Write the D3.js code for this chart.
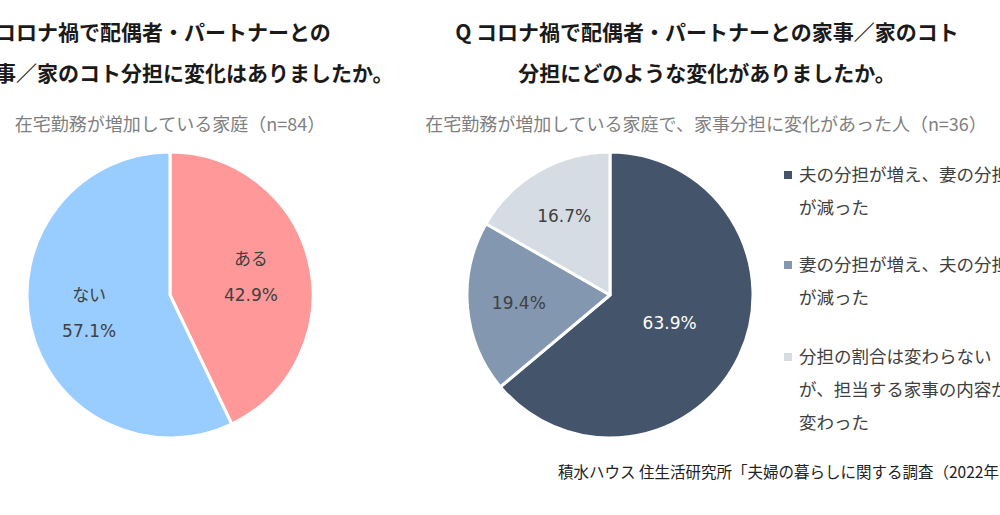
<!DOCTYPE html>
<html><head><meta charset="utf-8">
<script src="https://cdn.jsdelivr.net/npm/d3@7"></script>
<style>html,body{margin:0;padding:0;background:#fff;overflow:hidden}</style>
</head><body>
<svg id="c" width="1000" height="515"></svg>
<script>
const leftTitle = ["Q コロナ禍で配偶者・パートナーとの", "家事／家のコト分担に変化はありましたか。"];
const rightTitle = ["Q コロナ禍で配偶者・パートナーとの家事／家のコト", "分担にどのような変化がありましたか。"];
const leftSubtitle = "在宅勤務が増加している家庭（n=84）";
const rightSubtitle = "在宅勤務が増加している家庭で、家事分担に変化があった人（n=36）";
const leftCategories = ["ある", "ない"];
const leftValues = [42.9, 57.1];
const leftColors = ["#FF9999", "#99CCFF"];
const rightCategories = [
  ["夫の分担が増え、妻の分担", "が減った"],
  ["妻の分担が増え、夫の分担", "が減った"],
  ["分担の割合は変わらない", "が、担当する家事の内容が", "変わった"]
];
const rightValues = [63.9, 19.4, 16.7];
const rightColors = ["#44546A", "#8497B0", "#D6DCE4"];
const rightLabelColors = ["#ffffff", "#404040", "#404040"];
const source = "積水ハウス 住生活研究所「夫婦の暮らしに関する調査（2022年）」";

const svg = d3.select("#c");
const FONT = "'Noto Sans CJK JP','Noto Sans',sans-serif";
const NUMFONT = "'DejaVu Sans','Noto Sans CJK JP',sans-serif";
const R = 143;

// titles
function title(lines, x, anchor) {
  lines.forEach((t, i) => {
    svg.append("text").attr("x", x).attr("y", 40 + i * 41)
      .attr("text-anchor", anchor).attr("font-family", FONT)
      .attr("font-weight", "bold").attr("font-size", 21).attr("fill", "#1a1a1a").text(t);
  });
}
title(leftTitle, -26, "start");
title(rightTitle, 707, "middle");

svg.append("text").attr("x", 170).attr("y", 131).attr("text-anchor", "middle")
  .attr("font-family", FONT).attr("font-size", 18).attr("fill", "#7f7f7f").text(leftSubtitle);
svg.append("text").attr("x", 706).attr("y", 131).attr("text-anchor", "middle")
  .attr("font-family", FONT).attr("font-size", 18).attr("fill", "#7f7f7f").text(rightSubtitle);

const pie = d3.pie().sort(null).value(d => d);
const arc = d3.arc().innerRadius(0).outerRadius(R);

// left pie
const gl = svg.append("g").attr("transform", "translate(170,295)");
const la = pie(leftValues);
gl.selectAll("path").data(la).join("path")
  .attr("d", arc).attr("fill", (d, i) => leftColors[i])
  .attr("stroke", "#fff").attr("stroke-width", 3).attr("stroke-linejoin", "round");
const lArcLab = d3.arc().innerRadius(R * 0.58).outerRadius(R * 0.58);
la.forEach((d, i) => {
  const [cx, cy] = lArcLab.centroid(d);
  gl.append("text").attr("x", cx).attr("y", cy - 18).attr("dy", "0.35em")
    .attr("text-anchor", "middle").attr("font-family", FONT)
    .attr("font-size", 17).attr("fill", "#404040").text(leftCategories[i]);
  gl.append("text").attr("x", cx).attr("y", cy + 18).attr("dy", "0.35em")
    .attr("text-anchor", "middle").attr("font-family", NUMFONT)
    .attr("font-size", 17).attr("fill", "#404040").text(leftValues[i].toFixed(1) + "%");
});

// right pie
const gr = svg.append("g").attr("transform", "translate(610,295)");
const ra = pie(rightValues);
gr.selectAll("path").data(ra).join("path")
  .attr("d", arc).attr("fill", (d, i) => rightColors[i])
  .attr("stroke", "#fff").attr("stroke-width", 3).attr("stroke-linejoin", "round");
ra.forEach((d, i) => {
  const f = (d.endAngle - d.startAngle) > Math.PI ? 0.46 : 0.64;
  const a = d3.arc().innerRadius(R * f).outerRadius(R * f);
  const [cx, cy] = a.centroid(d);
  gr.append("text").attr("x", cx).attr("y", cy).attr("dy", "0.35em")
    .attr("text-anchor", "middle").attr("font-family", NUMFONT).attr("font-size", 17)
    .attr("fill", rightLabelColors[i]).text(rightValues[i].toFixed(1) + "%");
});

// legend
const legendStartY = [175, 265, 357];
rightCategories.forEach((lines, i) => {
  const y0 = legendStartY[i];
  svg.append("rect").attr("x", 784).attr("y", y0 - 4).attr("width", 8).attr("height", 8)
    .attr("fill", rightColors[i]);
  lines.forEach((t, j) => {
    svg.append("text").attr("x", 799).attr("y", y0 + j * 33).attr("dy", "0.35em")
      .attr("font-family", FONT).attr("font-size", 17.5).attr("fill", "#404040").text(t);
  });
});

svg.append("text").attr("x", 558).attr("y", 478).attr("font-family", FONT)
  .attr("font-size", 15.5).attr("fill", "#222").text(source);
</script>
</body></html>
